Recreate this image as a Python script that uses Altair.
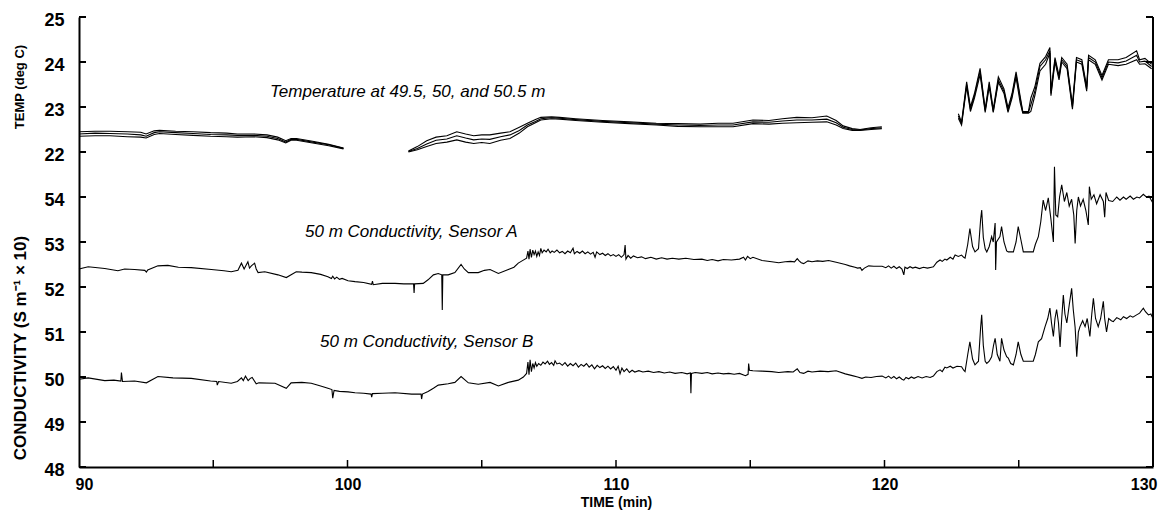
import altair as alt
import pandas as pd

# ---------------- data ----------------
# Temperature at 49.5, 50 and 50.5 m (deg C); gaps where no data
temp_time = [90.0, 90.6, 91.15, 91.8, 92.3, 92.5, 92.8, 93.0, 93.6, 94.25, 94.9, 95.5, 95.9, 96.5,
             97.0, 97.4, 97.7, 97.9, 98.1, 98.7, 99.3, 99.85,
             102.27, 102.6, 102.95, 103.3, 103.7, 104.07, 104.4, 104.7, 105.0, 105.3, 105.7, 106.05,
             106.4, 106.7, 107.0, 107.2, 107.6, 107.9, 108.5, 109.5, 110.5, 111.5, 112.3, 113.13,
             113.8, 114.36, 115.1, 115.7, 116.2, 116.73, 117.3, 117.85, 118.2, 118.46, 118.8, 119.09,
             119.5, 119.9,
             122.75, 122.87, 123.06, 123.2, 123.35, 123.56, 123.75, 123.9, 124.05, 124.24, 124.45,
             124.6, 124.75, 124.9, 125.05, 125.15, 125.36, 125.45, 125.6, 125.79, 126.0, 126.16,
             126.2, 126.35, 126.5, 126.6, 126.8, 127.0, 127.15, 127.35, 127.53, 127.6, 127.85, 128.1,
             128.34, 128.7, 129.0, 129.39, 129.5, 129.7, 129.95]
temp_upper = [22.45, 22.46, 22.46, 22.45, 22.44, 22.40, 22.47, 22.48, 22.46, 22.45, 22.43, 22.42, 22.40, 22.40,
              22.38, 22.33, 22.25, 22.30, 22.30, 22.24, 22.17, 22.09,
              22.02, 22.12, 22.25, 22.33, 22.36, 22.45, 22.40, 22.36, 22.38, 22.38, 22.42, 22.45,
              22.55, 22.64, 22.72, 22.77, 22.78, 22.77, 22.74, 22.70, 22.67, 22.64, 22.63, 22.62,
              22.64, 22.64, 22.71, 22.70, 22.74, 22.77, 22.76, 22.80, 22.70, 22.58, 22.52, 22.50,
              22.54, 22.56,
              22.85, 22.66, 23.56, 23.00, 23.30, 23.86, 22.95, 23.56, 22.95, 23.67, 23.40,
              22.98, 23.30, 23.78, 23.25, 22.90, 22.90, 23.20, 23.45, 23.97, 24.12, 24.32,
              23.35, 24.10, 23.70, 24.10, 23.95, 23.05, 24.10, 24.05, 23.45, 24.15, 24.05, 23.70,
              24.05, 24.05, 24.10, 24.25, 24.05, 24.08, 23.95]
temp_middle = [22.40, 22.42, 22.41, 22.40, 22.38, 22.35, 22.43, 22.45, 22.43, 22.41, 22.39, 22.38, 22.37, 22.37,
               22.35, 22.30, 22.22, 22.28, 22.28, 22.22, 22.16, 22.08,
               22.01, 22.08, 22.18, 22.26, 22.29, 22.36, 22.31, 22.27, 22.29, 22.28, 22.34, 22.38,
               22.48, 22.60, 22.68, 22.74, 22.76, 22.75, 22.72, 22.68, 22.65, 22.62, 22.60, 22.59,
               22.60, 22.60, 22.67, 22.66, 22.69, 22.71, 22.71, 22.73, 22.65, 22.55, 22.50, 22.49,
               22.52, 22.54,
               22.80, 22.63, 23.50, 22.95, 23.25, 23.80, 22.92, 23.50, 22.90, 23.60, 23.35,
               22.93, 23.25, 23.72, 23.20, 22.88, 22.88, 23.05, 23.35, 23.90, 24.05, 24.25,
               23.30, 24.05, 23.65, 24.05, 23.90, 23.00, 24.05, 24.00, 23.40, 24.10, 24.00, 23.65,
               24.00, 23.98, 24.02, 24.15, 24.00, 24.02, 23.90]
temp_lower = [22.35, 22.36, 22.36, 22.34, 22.33, 22.31, 22.39, 22.41, 22.39, 22.37, 22.35, 22.34, 22.33, 22.34,
              22.32, 22.27, 22.20, 22.26, 22.26, 22.20, 22.14, 22.07,
              22.00, 22.05, 22.12, 22.19, 22.22, 22.27, 22.22, 22.19, 22.21, 22.19, 22.26, 22.30,
              22.42, 22.56, 22.65, 22.71, 22.74, 22.73, 22.70, 22.66, 22.63, 22.60, 22.57, 22.56,
              22.56, 22.56, 22.63, 22.62, 22.64, 22.65, 22.66, 22.67, 22.60, 22.52, 22.48, 22.48,
              22.50, 22.52,
              22.75, 22.60, 23.45, 22.90, 23.20, 23.72, 22.88, 23.45, 22.88, 23.55, 23.30,
              22.88, 23.20, 23.66, 23.10, 22.86, 22.86, 22.90, 23.25, 23.80, 23.95, 24.20,
              23.25, 24.00, 23.60, 24.00, 23.85, 22.95, 24.00, 23.95, 23.35, 24.05, 23.95, 23.60,
              23.95, 23.92, 23.95, 24.05, 23.95, 23.96, 23.85]

# 50 m conductivity, sensor A (S m^-1 x 10): (time, value) pairs
condA = [
    (90.0, 52.40), (90.34, 52.45), (90.96, 52.41), (91.45, 52.36), (91.7, 52.40), (92.07, 52.39),
    (92.45, 52.37), (92.51, 52.33), (92.56, 52.38), (92.94, 52.47), (93.31, 52.48), (93.7, 52.44),
    (94.18, 52.43), (94.93, 52.39), (95.4, 52.36), (95.67, 52.34), (95.92, 52.37), (96.05, 52.53),
    (96.15, 52.40), (96.29, 52.56), (96.35, 52.42), (96.42, 52.47), (96.54, 52.53), (96.6, 52.40),
    (96.67, 52.32), (96.92, 52.34), (97.41, 52.27), (97.72, 52.21), (98.09, 52.34), (98.3, 52.33),
    (98.65, 52.32), (99.0, 52.28), (99.27, 52.23), (99.4, 52.19), (99.45, 52.24), (99.52, 52.18),
    (99.6, 52.22), (99.7, 52.17), (99.8, 52.19), (100.02, 52.14), (100.28, 52.12), (100.6, 52.10),
    (100.9, 52.06), (100.93, 52.13), (100.96, 52.05), (101.3, 52.08), (101.77, 52.08), (102.1, 52.07),
    (102.46, 52.07), (102.48, 51.87), (102.5, 52.07), (102.82, 52.08), (103.0, 52.16), (103.2, 52.27),
    (103.38, 52.30), (103.51, 52.27), (103.53, 51.49), (103.55, 52.27), (103.75, 52.27), (104.0, 52.32),
    (104.23, 52.50), (104.35, 52.40), (104.5, 52.32), (104.87, 52.32), (105.1, 52.37), (105.31, 52.39),
    (105.62, 52.30), (105.99, 52.39), (106.2, 52.44), (106.36, 52.53), (106.5, 52.58),
    (106.67, 52.64), (106.72, 52.80), (106.76, 52.62), (106.8, 52.84), (106.85, 52.66), (106.9, 52.82),
    (106.95, 52.72), (107.0, 52.80), (107.05, 52.68), (107.1, 52.78), (107.15, 52.70), (107.2, 52.86),
    (107.25, 52.76), (107.32, 52.82), (107.4, 52.78), (107.47, 52.84), (107.55, 52.76), (107.62, 52.80),
    (107.7, 52.77), (107.8, 52.82), (107.9, 52.76), (108.0, 52.79), (108.1, 52.74), (108.2, 52.80),
    (108.3, 52.76), (108.4, 52.86), (108.45, 52.74), (108.55, 52.79), (108.65, 52.75), (108.75, 52.80),
    (108.85, 52.74), (108.95, 52.78), (109.05, 52.73), (109.15, 52.77), (109.22, 52.66), (109.28, 52.78),
    (109.4, 52.72), (109.5, 52.75), (109.6, 52.70), (109.7, 52.74), (109.8, 52.69), (109.9, 52.72),
    (110.0, 52.68), (110.1, 52.72), (110.2, 52.66), (110.3, 52.72), (110.34, 52.93), (110.37, 52.62),
    (110.45, 52.70), (110.55, 52.64), (110.65, 52.69), (110.8, 52.65), (110.95, 52.67), (111.1, 52.63),
    (111.3, 52.66), (111.5, 52.62), (111.7, 52.65), (111.9, 52.62), (112.1, 52.64), (112.34, 52.62),
    (112.6, 52.64), (112.9, 52.61), (113.2, 52.62), (113.4, 52.59), (113.58, 52.61), (113.8, 52.58),
    (114.0, 52.61), (114.3, 52.60), (114.6, 52.62), (114.75, 52.66), (114.82, 52.60), (114.9, 52.68),
    (115.0, 52.63), (115.1, 52.66), (115.44, 52.59), (115.8, 52.56), (116.06, 52.54), (116.3, 52.56),
    (116.5, 52.57), (116.65, 52.56), (116.75, 52.63), (116.82, 52.58), (116.9, 52.54), (116.99, 52.52),
    (117.15, 52.58), (117.3, 52.56), (117.5, 52.58), (117.7, 52.57), (117.92, 52.59), (118.2, 52.55),
    (118.54, 52.50), (118.7, 52.47), (118.9, 52.44), (119.0, 52.42), (119.1, 52.43), (119.16, 52.37),
    (119.25, 52.42), (119.41, 52.47), (119.6, 52.46), (119.91, 52.46), (120.05, 52.43), (120.15, 52.47),
    (120.25, 52.42), (120.35, 52.46), (120.45, 52.41), (120.55, 52.45), (120.65, 52.40), (120.72, 52.27),
    (120.76, 52.44), (120.85, 52.41), (120.95, 52.45), (121.05, 52.42), (121.15, 52.44), (121.3, 52.41),
    (121.45, 52.44), (121.6, 52.42), (121.75, 52.44), (121.82, 52.45), (121.95, 52.55), (122.07, 52.60),
    (122.15, 52.57), (122.25, 52.62), (122.32, 52.60), (122.45, 52.66), (122.55, 52.62), (122.63, 52.71),
    (122.75, 52.68), (122.87, 52.71), (122.95, 52.66), (123.0, 52.64), (123.1, 52.95), (123.18, 53.30),
    (123.28, 52.90), (123.37, 52.78), (123.5, 52.85), (123.58, 53.50), (123.62, 53.71), (123.68, 53.10),
    (123.75, 52.85), (123.81, 52.78), (123.9, 52.90), (123.99, 53.12), (124.05, 53.00), (124.12, 53.42),
    (124.14, 52.38), (124.17, 53.00), (124.3, 53.12), (124.36, 53.34), (124.45, 53.00), (124.55, 52.80),
    (124.61, 52.78), (124.8, 52.78), (124.9, 53.00), (124.98, 53.34), (125.08, 53.05), (125.17, 52.78),
    (125.54, 52.78), (125.62, 52.95), (125.73, 53.12), (125.82, 53.45), (125.91, 53.93), (126.0, 53.70),
    (126.1, 53.98), (126.2, 53.50), (126.29, 53.00), (126.33, 54.67), (126.38, 53.60), (126.45, 53.56),
    (126.52, 54.00), (126.6, 54.27), (126.7, 53.90), (126.79, 54.10), (126.88, 53.80), (126.97, 53.95),
    (127.05, 53.60), (127.1, 52.97), (127.16, 53.70), (127.22, 54.00), (127.3, 53.80), (127.4, 53.95),
    (127.5, 53.70), (127.59, 53.38), (127.63, 54.23), (127.7, 53.95), (127.8, 54.05), (127.9, 53.85),
    (128.03, 54.05), (128.15, 53.90), (128.2, 53.55), (128.25, 54.10), (128.35, 53.92), (128.5, 53.90),
    (128.65, 54.00), (128.77, 53.93), (128.9, 54.00), (129.0, 53.95), (129.15, 54.02), (129.27, 53.95),
    (129.4, 54.00), (129.5, 53.98), (129.64, 54.06), (129.75, 54.00), (129.85, 54.02), (130.0, 53.86),
]

# 50 m conductivity, sensor B (S m^-1 x 10)
condB = [
    (90.0, 49.95), (90.34, 49.98), (90.96, 49.92), (91.3, 49.93), (91.56, 49.91), (91.58, 50.10),
    (91.62, 49.90), (92.07, 49.91), (92.51, 49.87), (92.94, 50.01), (93.5, 49.98), (94.18, 49.97),
    (94.9, 49.91), (95.13, 49.90), (95.15, 49.82), (95.2, 49.90), (95.67, 49.86), (95.9, 49.90),
    (96.05, 49.98), (96.12, 49.92), (96.2, 50.02), (96.3, 49.92), (96.38, 49.97), (96.45, 49.99),
    (96.6, 49.85), (96.7, 49.87), (97.3, 49.86), (97.72, 49.75), (97.9, 49.87), (98.3, 49.88),
    (98.65, 49.86), (99.0, 49.80), (99.27, 49.75), (99.42, 49.72), (99.45, 49.53), (99.5, 49.70),
    (99.7, 49.68), (100.02, 49.67), (100.28, 49.65), (100.6, 49.64), (100.88, 49.62), (100.9, 49.55),
    (100.93, 49.63), (101.3, 49.64), (101.77, 49.65), (102.39, 49.62), (102.74, 49.62), (102.76, 49.51),
    (102.79, 49.62), (103.0, 49.68), (103.2, 49.75), (103.38, 49.82), (103.75, 49.85), (104.0, 49.88),
    (104.23, 50.01), (104.5, 49.87), (104.87, 49.84), (105.31, 49.88), (105.62, 49.80), (105.99, 49.88),
    (106.36, 49.93), (106.55, 50.00), (106.67, 50.08), (106.72, 50.33), (106.76, 50.05), (106.8, 50.38),
    (106.85, 50.12), (106.9, 50.30), (106.95, 50.20), (107.0, 50.32), (107.05, 50.24), (107.12, 50.30),
    (107.2, 50.26), (107.28, 50.33), (107.36, 50.29), (107.45, 50.35), (107.52, 50.28), (107.6, 50.32),
    (107.68, 50.26), (107.73, 50.36), (107.8, 50.29), (107.9, 50.31), (108.0, 50.26), (108.1, 50.32),
    (108.2, 50.24), (108.3, 50.30), (108.4, 50.25), (108.5, 50.31), (108.6, 50.22), (108.7, 50.28),
    (108.8, 50.24), (108.9, 50.30), (109.0, 50.22), (109.1, 50.27), (109.2, 50.18), (109.3, 50.26),
    (109.4, 50.21), (109.5, 50.25), (109.6, 50.19), (109.7, 50.24), (109.8, 50.18), (109.9, 50.23),
    (110.0, 50.15), (110.08, 50.24), (110.15, 50.07), (110.22, 50.20), (110.3, 50.12), (110.4, 50.18),
    (110.5, 50.10), (110.6, 50.15), (110.7, 50.11), (110.85, 50.14), (111.0, 50.11), (111.2, 50.13),
    (111.4, 50.10), (111.6, 50.12), (111.8, 50.09), (112.0, 50.11), (112.2, 50.08), (112.45, 50.10),
    (112.65, 50.07), (112.77, 50.09), (112.79, 49.64), (112.81, 50.08), (112.95, 50.10), (113.2, 50.08),
    (113.4, 50.10), (113.58, 50.07), (113.8, 50.09), (114.0, 50.07), (114.2, 50.08), (114.4, 50.06),
    (114.6, 50.08), (114.82, 50.03), (114.92, 50.06), (114.94, 50.30), (114.97, 50.15), (115.1, 50.14),
    (115.44, 50.13), (115.8, 50.12), (116.06, 50.10), (116.4, 50.12), (116.6, 50.11), (116.75, 50.18),
    (116.85, 50.10), (116.99, 50.08), (117.15, 50.13), (117.3, 50.11), (117.6, 50.13), (117.9, 50.12),
    (118.2, 50.14), (118.54, 50.07), (118.8, 50.03), (119.0, 50.00), (119.16, 49.97), (119.3, 50.00),
    (119.5, 49.99), (119.7, 50.01), (119.91, 50.02), (120.05, 49.98), (120.15, 50.02), (120.25, 49.97),
    (120.35, 50.01), (120.45, 49.96), (120.55, 50.00), (120.65, 49.95), (120.72, 49.93), (120.8, 49.99),
    (120.9, 49.96), (121.0, 50.00), (121.1, 49.97), (121.25, 50.01), (121.4, 49.98), (121.55, 50.01),
    (121.7, 49.99), (121.82, 50.02), (121.95, 50.12), (122.07, 50.16), (122.15, 50.12), (122.25, 50.22),
    (122.32, 50.20), (122.45, 50.24), (122.55, 50.20), (122.7, 50.24), (122.87, 50.23), (122.95, 50.15),
    (123.0, 50.12), (123.1, 50.50), (123.18, 50.78), (123.28, 50.40), (123.37, 50.27), (123.5, 50.35),
    (123.58, 51.10), (123.62, 51.38), (123.68, 50.70), (123.75, 50.35), (123.81, 50.30), (123.9, 50.35),
    (123.99, 50.45), (124.06, 50.70), (124.12, 50.86), (124.2, 50.50), (124.3, 50.35), (124.36, 50.86),
    (124.45, 50.60), (124.55, 50.45), (124.61, 50.42), (124.7, 50.30), (124.8, 50.27), (124.9, 50.50),
    (124.98, 50.78), (125.08, 50.50), (125.17, 50.35), (125.54, 50.35), (125.62, 50.50), (125.73, 50.78),
    (125.85, 50.85), (125.98, 51.12), (126.08, 51.30), (126.16, 51.53), (126.22, 51.20), (126.29, 50.90),
    (126.35, 51.30), (126.41, 51.50), (126.48, 51.20), (126.54, 50.67), (126.6, 51.30), (126.66, 51.82),
    (126.72, 51.40), (126.79, 51.20), (126.88, 51.60), (126.97, 51.97), (127.03, 51.50), (127.1, 51.10),
    (127.16, 50.45), (127.22, 51.00), (127.28, 51.12), (127.38, 51.25), (127.47, 51.12), (127.55, 51.30),
    (127.65, 50.90), (127.72, 51.40), (127.78, 51.75), (127.86, 51.30), (127.96, 51.12), (128.05, 51.30),
    (128.15, 51.68), (128.2, 51.30), (128.27, 51.00), (128.35, 51.30), (128.45, 51.25), (128.52, 51.23),
    (128.65, 51.32), (128.8, 51.27), (128.9, 51.34), (129.02, 51.30), (129.15, 51.36), (129.25, 51.33),
    (129.39, 51.38), (129.5, 51.42), (129.64, 51.53), (129.72, 51.45), (129.83, 51.38), (129.92, 51.40),
    (130.0, 51.30),
]

temp_ticks = [22, 23, 24, 25]
cond_ticks = [48, 49, 50, 51, 52, 53, 54]
time_labels = [90, 100, 110, 120, 130]
time_ticks = [95, 100, 105, 110, 115, 120, 125]
annotations = ["Temperature at 49.5, 50, and 50.5 m",
               "50 m Conductivity, Sensor A",
               "50 m Conductivity, Sensor B"]
y_titles = ["TEMP (deg C)", "CONDUCTIVITY (S m\u207b\u00b9 \u00d7 10)"]

# ---------------- build long table ----------------
rows = []


def add(series, kind, times, values):
    seg, prev = 0, None
    for t, v in zip(times, values):
        if prev is not None and t - prev > 1.5:
            seg += 1
        rows.append({"series": series, "kind": kind, "key": f"{series}-{seg}", "t": t, "value": v})
        prev = t


add("T49.5", "temp", temp_time, temp_upper)
add("T50", "temp", temp_time, temp_middle)
add("T50.5", "temp", temp_time, temp_lower)
add("A", "cond", [p[0] for p in condA], [p[1] for p in condA])
add("B", "cond", [p[0] for p in condB], [p[1] for p in condB])
df = pd.DataFrame(rows)

ytick_df = pd.DataFrame(
    [{"kind": "temp", "value": v} for v in temp_ticks] + [{"kind": "cond", "value": v} for v in cond_ticks])

W, H = 1074, 450
FONT = "Liberation Sans"
shift = "datum.kind == 'temp' ? datum.value - 15 : datum.value - 48"

xscale = alt.Scale(domain=[90, 130], nice=False, zero=False)
yscale = alt.Scale(domain=[0, 10], nice=False, zero=False)

xaxis = alt.Axis(values=time_labels, tickSize=0, labelPadding=9, labelFontSize=16,
                 labelFontWeight="bold", labelFont=FONT, labelColor="black",
                 domainColor="black", domainWidth=2, grid=False,
                 titleFont=FONT, titleFontSize=14, titleFontWeight="bold",
                 titleColor="black", titlePadding=3, labelFlush=True, labelFlushOffset=4)
yaxis = alt.Axis(values=list(range(11)), tickSize=0, labelPadding=15, labelFontSize=18,
                 labelFontWeight="bold", labelFont=FONT, labelColor="black",
                 domainColor="black", domainWidth=2, grid=False, labelOffset=3,
                 labelExpr="datum.value >= 7 ? datum.value + 15 : datum.value + 48")
xenc = alt.X("t:Q", scale=xscale, title="TIME (min)", axis=xaxis)
yenc = alt.Y("yv:Q", scale=yscale, title="", axis=yaxis)

lines = alt.Chart(df).transform_calculate(yv=shift).mark_line(
    color="black", strokeWidth=1.1
).encode(x=xenc, y=yenc, detail="key:N")

left_ticks = alt.Chart(ytick_df).transform_calculate(yv=shift).mark_rule(
    color="black", strokeWidth=2).encode(y=yenc, x=alt.value(0), x2=alt.value(7))
right_ticks = alt.Chart(ytick_df).transform_calculate(yv=shift).mark_rule(
    color="black", strokeWidth=2).encode(y=yenc, x=alt.value(W - 7), x2=alt.value(W))
bottom_ticks = alt.Chart(pd.DataFrame({"t": time_ticks})).mark_rule(
    color="black", strokeWidth=1.5).encode(x=xenc, y=alt.value(H), y2=alt.value(H - 7))
right_border = alt.Chart(pd.DataFrame({"t": [130]})).mark_rule(
    color="black", strokeWidth=2).encode(x=xenc, y=alt.value(0), y2=alt.value(H))

ann_pos = [(191, 75), (226, 215), (241, 325)]
ann_layers = [
    alt.Chart(pd.DataFrame({"label": [txt]})).mark_text(
        align="left", baseline="middle", font=FONT, fontSize=17, fontStyle="italic", color="black"
    ).encode(text="label:N", x=alt.value(px), y=alt.value(py))
    for txt, (px, py) in zip(annotations, ann_pos)
]

title_pos = [(-59, 70, 13), (-58, 331, 17)]
title_layers = [
    alt.Chart(pd.DataFrame({"label": [txt]})).mark_text(
        align="center", baseline="middle", angle=270, font=FONT, fontSize=fs,
        fontWeight="bold", color="black"
    ).encode(text="label:N", x=alt.value(px), y=alt.value(py))
    for txt, (px, py, fs) in zip(y_titles, title_pos)
]

chart = alt.layer(
    lines, left_ticks, right_ticks, bottom_ticks, right_border, *ann_layers, *title_layers
).properties(
    width=W, height=H,
    padding={"left": 79, "top": 17, "right": 7, "bottom": 46},
    autosize=alt.AutoSizeParams(type="none"),
    background="white",
).configure_view(stroke=None)

chart.save("out.html", embed_options={"renderer": "svg", "actions": False})
